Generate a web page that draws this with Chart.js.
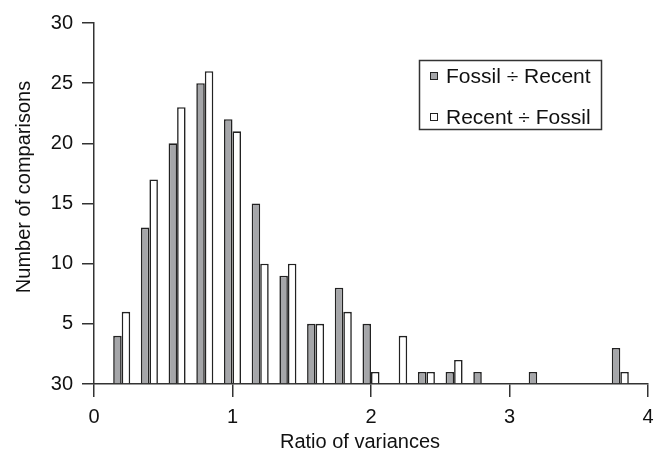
<!DOCTYPE html>
<html>
<head>
<meta charset="utf-8">
<script src="https://cdn.jsdelivr.net/npm/chart.js@4.4.0/dist/chart.umd.min.js"></script>
<style>
  html, body { margin: 0; padding: 0; background: #fff; }
</style>
</head>
<body>
<canvas id="hist" width="654" height="452"></canvas>
<script>
// histogram bins (ratio of variances) and the counts for each direction
const binCentres = [0.2, 0.4, 0.6, 0.8, 1.0, 1.2, 1.4, 1.6, 1.8, 2.0, 2.2, 2.4, 2.6, 2.8, 3.0, 3.2, 3.4, 3.6, 3.8];
const fossilOverRecent = [4, 13, 20, 25, 22, 15, 9, 5, 8, 5, 0, 1, 1, 1, 0, 1, 0, 0, 3];
const recentOverFossil = [6, 17, 23, 26, 21, 10, 10, 5, 6, 1, 4, 1, 2, 0, 0, 0, 0, 0, 1];
const seriesNames = ['Fossil \u00f7 Recent', 'Recent \u00f7 Fossil'];
const yTickLabels = ['30', '5', '10', '15', '20', '25', '30'];
const xTitle = 'Ratio of variances';
const yTitle = 'Number of comparisons';

const FONT = '"Liberation Sans", Arial, Helvetica, sans-serif';
const INK = '#222';

// empty bins get no bar at all
function toPoints(counts) {
  return binCentres
    .map((x, i) => ({ x: x, y: counts[i] }))
    .filter(p => p.y > 0);
}

// axis titles placed by hand, plus a boxed legend inside the plot
const annotations = {
  id: 'annotations',
  afterDraw(chart) {
    const ctx = chart.ctx;
    ctx.save();
    ctx.fillStyle = '#111';
    ctx.font = '20px ' + FONT;
    ctx.textAlign = 'center';
    ctx.textBaseline = 'middle';
    ctx.fillText(xTitle, 360, 442);
    ctx.save();
    ctx.translate(24, 187);
    ctx.rotate(-Math.PI / 2);
    ctx.fillText(yTitle, 0, 0);
    ctx.restore();

    ctx.strokeStyle = '#333';
    ctx.lineWidth = 1.5;
    ctx.strokeRect(419.5, 60.5, 182, 69);
    ctx.font = '21px ' + FONT;
    ctx.textAlign = 'left';
    chart.data.datasets.forEach((ds, i) => {
      const cy = 76 + i * 41;
      ctx.fillStyle = ds.backgroundColor;
      ctx.fillRect(430, cy - 4, 8, 8);
      ctx.strokeStyle = INK;
      ctx.lineWidth = 1;
      ctx.strokeRect(430.5, cy - 3.5, 7, 7);
      ctx.fillStyle = '#111';
      ctx.fillText(ds.label, 446, cy + 1);
    });
    ctx.restore();
  }
};

new Chart(document.getElementById('hist'), {
  type: 'bar',
  data: {
    datasets: [
      {
        label: seriesNames[0],
        data: toPoints(fossilOverRecent),
        backgroundColor: '#a5a6a9',
        borderColor: INK,
        borderWidth: 1.6,
        borderSkipped: 'start'
      },
      {
        label: seriesNames[1],
        data: toPoints(recentOverFossil),
        backgroundColor: '#ffffff',
        borderColor: INK,
        borderWidth: 1.6,
        borderSkipped: 'start'
      }
    ]
  },
  options: {
    responsive: false,
    animation: false,
    events: [],
    categoryPercentage: 0.615,
    barPercentage: 1.0,
    layout: { padding: { top: 23, right: 6, left: 0, bottom: 0 } },
    plugins: {
      legend: { display: false },
      tooltip: { enabled: false }
    },
    scales: {
      x: {
        type: 'linear',
        min: 0,
        max: 4,
        offset: false,
        grid: { offset: false, drawOnChartArea: false, tickLength: 13, tickColor: '#333', lineWidth: 1.5 },
        border: { display: true, color: '#333', width: 1.5 },
        ticks: {
          stepSize: 1,
          padding: 8,
          color: '#111',
          font: { family: FONT, size: 20 },
          maxRotation: 0
        },
        afterFit(scale) {
          scale.height = 68;
          scale.paddingLeft = 0;
          scale.paddingRight = 0;
        }
      },
      y: {
        min: 0,
        max: 30,
        grid: { drawOnChartArea: false, tickLength: 12, tickColor: '#333', lineWidth: 1.5 },
        border: { display: true, color: '#333', width: 1.5 },
        ticks: {
          stepSize: 5,
          padding: 9,
          color: '#111',
          font: { family: FONT, size: 20 },
          callback: (v, i) => yTickLabels[i]
        },
        afterFit(scale) {
          scale.width = 94;
          scale.paddingTop = 0;
          scale.paddingBottom = 0;
        }
      }
    }
  },
  plugins: [annotations]
});
</script>
</body>
</html>
